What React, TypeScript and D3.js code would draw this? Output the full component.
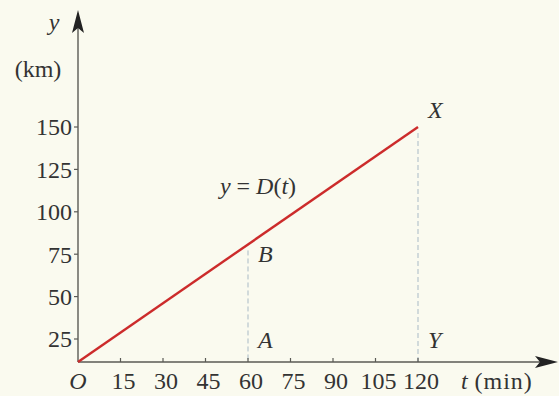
import React from "react";
import * as d3 from "d3";

const W = 559, H = 396;
const xTicks = [15, 30, 45, 60, 75, 90, 105, 120];
const yTicks = [25, 50, 75, 100, 125, 150];
const lineT = [0, 120];
const lineY = [11.5, 150];
const dropT = [60, 120];
const pointLabels = [
  { t: 60, text: "B", pos: "top" },
  { t: 120, text: "X", pos: "top" },
  { t: 60, text: "A", pos: "bottom" },
  { t: 120, text: "Y", pos: "bottom" },
];

export default function App() {
  const x = d3.scaleLinear().domain([0, 120]).range([78, 418]);
  const y = d3.scaleLinear().domain([25, 150]).range([339, 127]);
  const axisY = 362;
  const axisX = 78;
  const font = "Liberation Serif, Tinos, Times New Roman, serif";
  const line = d3.line<number>().x((_, i) => x(lineT[i])).y((d) => y(d));
  const interp = (t: number) => lineY[0] + ((lineY[1] - lineY[0]) * (t - lineT[0])) / (lineT[1] - lineT[0]);
  const axisCol = "#5a5a55";
  const fs = 24;
  const baseX = 389;
  return (
    <svg width={W} height={H} style={{ position: "absolute", left: 0, top: 0, background: "#fafaef", fontFamily: font }}>
      <rect width={W} height={H} fill="#fafaef" />
      {dropT.map((t) => (
        <line key={t} x1={x(t)} x2={x(t)} y1={y(interp(t)) + 6} y2={axisY} stroke="#a9bac6" strokeWidth={1} strokeDasharray="5,3" />
      ))}
      <line x1={axisX} x2={axisX} y1={axisY} y2={22} stroke={axisCol} strokeWidth={1.4} />
      <path d={`M${axisX},10 L${axisX - 6},33 L${axisX},28 L${axisX + 6},33 Z`} fill="#222" />
      <line x1={axisX} x2={548} y1={axisY} y2={axisY} stroke={axisCol} strokeWidth={1.4} />
      <path d={`M558,${axisY} L535,${axisY - 6} L540,${axisY} L535,${axisY + 6} Z`} fill="#222" />
      {yTicks.map((v) => (
        <g key={v}>
          <line x1={axisX - 4} x2={axisX} y1={y(v)} y2={y(v)} stroke={axisCol} strokeWidth={1.2} />
          <text x={axisX - 6} y={y(v)} dy="0.35em" textAnchor="end" fontSize={fs} fill="#333">{v}</text>
        </g>
      ))}
      {xTicks.map((v) => (
        <g key={v}>
          <line x1={x(v)} x2={x(v)} y1={axisY} y2={axisY - 4} stroke={axisCol} strokeWidth={1.2} />
          <text x={x(v) + 3} y={baseX} textAnchor="middle" fontSize={fs} fill="#333">{v}</text>
        </g>
      ))}
      <text x={axisX} y={baseX} textAnchor="middle" fontSize={fs} fontStyle="italic" fill="#333">O</text>
      <text x={461} y={baseX} fontSize={fs} fill="#333" letterSpacing={1}><tspan fontStyle="italic">t</tspan>{"\u2009"}(min)</text>
      <text x={54} y={30} textAnchor="middle" fontSize={fs} fontStyle="italic" fill="#333">y</text>
      <text x={38} y={77} textAnchor="middle" fontSize={fs} fill="#333">(km)</text>
      <path d={line(lineY) || ""} fill="none" stroke="#cc2b2b" strokeWidth={2.4} />
      <text x={258} y={194} textAnchor="middle" fontSize={fs} fill="#333">
        <tspan fontStyle="italic">y</tspan> = <tspan fontStyle="italic">D</tspan>(<tspan fontStyle="italic">t</tspan>)
      </text>
      {pointLabels.map((p) => (
        <text key={p.text} x={x(p.t) + 10} y={p.pos === "top" ? (p.t === 120 ? y(interp(p.t)) - 9 : y(interp(p.t)) + 18) : axisY - 14} fontSize={fs} fontStyle="italic" fill="#333">{p.text}</text>
      ))}
    </svg>
  );
}
